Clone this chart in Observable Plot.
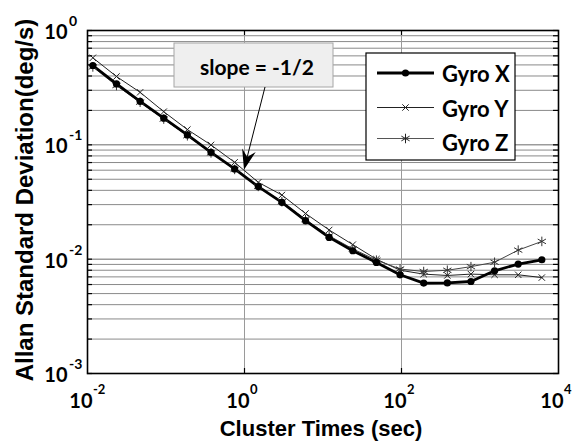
<!DOCTYPE html>
<html><head><meta charset="utf-8">
<script src="https://cdn.jsdelivr.net/npm/d3@7"></script>
<script src="https://cdn.jsdelivr.net/npm/@observablehq/plot@0.6"></script>
<style>body{margin:0;background:#fff}#chart{width:572px;height:441px}</style>
</head><body><div id="chart"></div>
<script>
// ---- data ----
const clusterTimes = [0.0117, 0.0234, 0.0468, 0.0936, 0.1872, 0.3744, 0.7488, 1.4976, 2.995, 5.99, 11.98, 23.96, 47.92, 95.85, 191.7, 383.4, 766.8, 1533.5, 3067, 6134];
const gyroX = [0.494, 0.341, 0.240, 0.171, 0.122, 0.0859, 0.0615, 0.0431, 0.0314, 0.0217, 0.0155, 0.01185, 0.00936, 0.0073, 0.00618, 0.0062, 0.00638, 0.00791, 0.00906, 0.00988];
const gyroY = [0.577, 0.396, 0.288, 0.195, 0.136, 0.0998, 0.0703, 0.0470, 0.0364, 0.0251, 0.0180, 0.0134, 0.0100, 0.0080, 0.0074, 0.0072, 0.0074, 0.0073, 0.0073, 0.0069];
const gyroZ = [0.480, 0.330, 0.236, 0.168, 0.120, 0.0850, 0.0610, 0.0433, 0.0318, 0.0222, 0.0160, 0.0123, 0.0098, 0.0082, 0.0078, 0.0080, 0.0086, 0.0094, 0.0120, 0.0143];
const seriesNames = ["Gyro X", "Gyro Y", "Gyro Z"];
const xMajorTicks = [0.01, 1, 100, 10000];
const xTickExponents = ["-2", "0", "2", "4"];
const yMajorTicks = [1, 0.1, 0.01, 0.001];
const yTickExponents = ["0", "-1", "-2", "-3"];
const yDecades = [0.001, 0.01, 0.1];
const minorMultipliers = [2, 3, 4, 5, 6, 7, 8, 9];
const xGridTicks = [1, 100];
const xTitle = "Cluster Times (sec)";
const yTitle = "Allan Standard Deviation(deg/s)";
const annotationText = "slope = -1/2";
const annotationTarget = [1.0, 0.06];

// ---- build ----
const yMinorTicks = yDecades.flatMap(d => minorMultipliers.map(m => m * d));
const yAllTicks = [...yMajorTicks, ...yMinorTicks];
const seriesValues = [gyroX, gyroY, gyroZ];
const rows = seriesNames.map((name, s) => clusterTimes.map((t, i) => ({series: name, t, v: seriesValues[s][i]})));
const [rowsX, rowsY, rowsZ] = rows;

const W = 572, H = 441, mL = 87, mR = 14, mT = 30, mB = 68;
const plotW = W - mL - mR, plotH = H - mT - mB;
const tickFont = {fontFamily: "Lato", fontWeight: "bold", fill: "black"};

const plot = Plot.plot({
  width: W, height: H,
  marginLeft: mL, marginRight: mR, marginTop: mT, marginBottom: mB,
  x: {type: "log", domain: [0.01, 10000], axis: null},
  y: {type: "log", domain: [0.001, 1], axis: null},
  style: {background: "white", overflow: "visible", fontFamily: "Lato"},
  marks: [
    Plot.gridY(yMinorTicks, {stroke: "#8a8a8a", strokeOpacity: 1, strokeWidth: 1}),
    Plot.gridY(yMajorTicks, {stroke: "#6a6a6a", strokeOpacity: 1, strokeWidth: 1}),
    Plot.gridX(xGridTicks, {stroke: "#9a9a9a", strokeOpacity: 1, strokeWidth: 1}),
    Plot.line(rowsY, {x: "t", y: "v", stroke: "#222", strokeWidth: 1}),
    Plot.line(rowsZ, {x: "t", y: "v", stroke: "#444", strokeWidth: 1}),
    Plot.line(rowsX, {x: "t", y: "v", stroke: "black", strokeWidth: 2.8}),
    Plot.dot(rowsY, {x: "t", y: "v", symbol: "times", r: 3, stroke: "#222", strokeWidth: 1}),
    Plot.dot(rowsZ, {x: "t", y: "v", symbol: "asterisk", r: 4.5, stroke: "#333", strokeWidth: 1}),
    Plot.dot(rowsX, {x: "t", y: "v", symbol: "circle", r: 3.6, fill: "black"}),
    Plot.frame({stroke: "black", strokeWidth: 1.6}),
    Plot.tickY(yAllTicks, {y: d => d, insetRight: plotW - 5, stroke: "black", strokeWidth: 1.2}),
    Plot.tickY(yAllTicks, {y: d => d, insetLeft: plotW - 5, stroke: "black", strokeWidth: 1.2}),
    Plot.tickX(xGridTicks, {x: d => d, insetTop: plotH - 5, stroke: "black", strokeWidth: 1.2}),
    Plot.tickX(xGridTicks, {x: d => d, insetBottom: plotH - 5, stroke: "black", strokeWidth: 1.2}),
    // x tick labels
    Plot.text(xMajorTicks, {x: d => d, frameAnchor: "bottom", text: () => "10", textAnchor: "end", lineAnchor: "bottom", dx: 5, dy: 34.5, fontSize: 20, ...tickFont}),
    Plot.text(xMajorTicks, {x: d => d, frameAnchor: "bottom", text: (d, i) => xTickExponents[i], textAnchor: "start", lineAnchor: "bottom", dx: 5.5, dy: 20, fontSize: 13, ...tickFont}),
    // y tick labels
    Plot.text(yMajorTicks, {y: d => d, frameAnchor: "left", text: () => "10", textAnchor: "end", lineAnchor: "bottom", dx: -20, dy: 8.5, fontSize: 20, ...tickFont}),
    Plot.text(yMajorTicks, {y: d => d, frameAnchor: "left", text: (d, i) => yTickExponents[i], textAnchor: "start", lineAnchor: "bottom", dx: -18.5, dy: -4.5, fontSize: 14, ...tickFont}),
    // axis titles
    Plot.text([xTitle], {frameAnchor: "bottom", text: d => d, textAnchor: "middle", lineAnchor: "bottom", dx: -2, dy: 62, fontSize: 22, fontWeight: "bold", fontFamily: "Liberation Sans", fill: "black"}),
    Plot.text([yTitle], {frameAnchor: "left", text: d => d, textAnchor: "middle", rotate: -90, lineAnchor: "bottom", dx: -55, dy: -2, fontSize: 24, fontWeight: "bold", fontFamily: "Liberation Sans", fill: "black"})
  ]
});
document.getElementById("chart").appendChild(plot);

// ---- annotation and legend ----
const svg = d3.select(plot);
const xs = plot.scale("x"), ys = plot.scale("y");
const ann = svg.append("g");
ann.append("rect").attr("x", 174).attr("y", 43).attr("width", 159).attr("height", 44)
  .attr("fill", "#efefef").attr("stroke", "#a6a6a6").attr("stroke-width", 1);
ann.append("text").attr("x", 257).attr("y", 74.5).attr("text-anchor", "middle")
  .attr("font-family", "Lato").attr("font-weight", "bold").attr("font-size", 21).attr("fill", "black")
  .text(annotationText);
{
  const sx = 265, sy = 87;
  const tx = xs.apply(annotationTarget[0]), ty = ys.apply(annotationTarget[1]);
  const dx = tx - sx, dy = ty - sy, L = Math.hypot(dx, dy), ux = dx / L, uy = dy / L, px = -uy, py = ux;
  const headLen = 20, headW = 7, notch = 13;
  ann.append("line").attr("x1", sx).attr("y1", sy).attr("x2", tx - ux * notch).attr("y2", ty - uy * notch)
    .attr("stroke", "black").attr("stroke-width", 1);
  ann.append("path").attr("d",
    `M${tx},${ty}L${tx - ux * headLen + px * headW},${ty - uy * headLen + py * headW}` +
    `L${tx - ux * notch},${ty - uy * notch}L${tx - ux * headLen - px * headW},${ty - uy * headLen - py * headW}Z`)
    .attr("fill", "black");
}
const leg = svg.append("g");
leg.append("rect").attr("x", 366).attr("y", 53).attr("width", 149).attr("height", 107)
  .attr("fill", "white").attr("stroke", "black").attr("stroke-width", 1.2);
const legRows = [
  {name: seriesNames[0], ly: 73, ty: 82, stroke: "black", sw: 2.8, sym: d3.symbolCircle, r: 3.6, fill: "black"},
  {name: seriesNames[1], ly: 107.5, ty: 116.5, stroke: "#222", sw: 1, sym: d3.symbolTimes, r: 3, fill: "none"},
  {name: seriesNames[2], ly: 138.5, ty: 150.5, stroke: "#555", sw: 1, sym: d3.symbolAsterisk, r: 4.5, fill: "none"}
];
for (const r of legRows) {
  leg.append("line").attr("x1", 377).attr("x2", 434).attr("y1", r.ly).attr("y2", r.ly)
    .attr("stroke", r.stroke).attr("stroke-width", r.sw);
  leg.append("path").attr("transform", `translate(405.5,${r.ly})`)
    .attr("d", d3.symbol(r.sym, Math.PI * r.r * r.r)())
    .attr("fill", r.fill).attr("stroke", r.fill === "none" ? "#222" : "none").attr("stroke-width", 1);
  leg.append("text").attr("x", 442).attr("y", r.ty).attr("text-anchor", "start")
    .attr("font-family", "Lato").attr("font-weight", "bold").attr("font-size", 22).attr("fill", "black")
    .text(r.name);
}
</script>
</body></html>
